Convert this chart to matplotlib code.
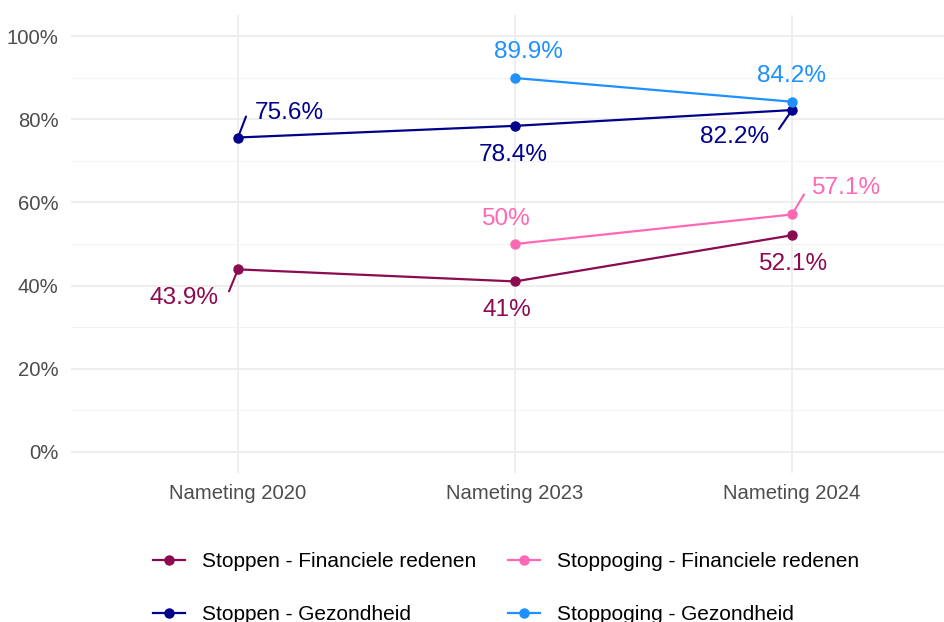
import matplotlib
matplotlib.use('Agg')
import matplotlib.pyplot as plt
import numpy as np

plt.rcParams['font.family'] = ['Liberation Sans', 'DejaVu Sans']

# data
categories = ['Nameting 2020', 'Nameting 2023', 'Nameting 2024']
series_names = ['Stoppen - Financiele redenen', 'Stoppen - Gezondheid',
                'Stoppoging - Financiele redenen', 'Stoppoging - Gezondheid']
stoppen_fin = [43.9, 41.0, 52.1]
stoppen_gez = [75.6, 78.4, 82.2]
stoppoging_fin = [np.nan, 50.0, 57.1]
stoppoging_gez = [np.nan, 89.9, 84.2]
y_ticks = [0, 20, 40, 60, 80, 100]

COLORS = ['#8B0A50', '#00008B', '#FF69B4', '#1E90FF']

# label offsets in pixels (text centre, optional segment start/end)
LABEL_POS = [
    [(-54, -29, (-9, -22), (-2, -4)), (-8, -29, None, None), (1, -29, None, None)],
    [(51, 25, (8, 21), (2, 4)), (-2, -29, None, None), (-57, -27, (-13, -19), (-2, -3))],
    [None, (-10, 25, None, None), (54, 26, (12, 20), (3, 3))],
    [None, (13, 26, None, None), (0, 26, None, None)],
]

W, H = 944, 622
fig = plt.figure(figsize=(W / 100, H / 100), dpi=100)
ax = fig.add_axes([71 / W, 1 - 473 / H, 1 - 71 / W, (473 - 15) / H])

x = np.arange(1, len(categories) + 1)
all_series = [stoppen_fin, stoppen_gez, stoppoging_fin, stoppoging_gez]
for vals, name, col, lpos in zip(all_series, series_names, COLORS, LABEL_POS):
    v = np.array(vals, dtype=float)
    ax.plot(x, v, color=col, lw=1.6, marker='o', markersize=6.5, label=name, zorder=3)
    for xi, yi, lp in zip(x, v, lpos):
        if np.isnan(yi) or lp is None:
            continue
        dx, dy, s0, s1 = lp
        ax.annotate(f'{yi:g}%', (xi, yi), xytext=(dx, dy), textcoords='offset pixels',
                    ha='center', va='center', fontsize=17.6, color=col, zorder=4)
        if s0 is not None:
            ax.annotate('', (xi, yi), xytext=s0, textcoords='offset pixels',
                        arrowprops=dict(arrowstyle='-', color=col, lw=1.5,
                                        shrinkA=0, shrinkB=3))

ax.set_xlim(1 - 167 / 277, 3 + 152 / 277)
ax.set_ylim(-5.05, 105.05)
ax.set_xticks(x)
ax.set_xticklabels(categories)
ax.set_yticks(y_ticks)
ax.set_yticklabels([f'{t}%' for t in y_ticks])
ax.set_yticks([10, 30, 50, 70, 90], minor=True)
ax.tick_params(axis='both', which='both', length=0, labelsize=14.6, colors='#4D4D4D')
ax.tick_params(axis='y', pad=9)
ax.tick_params(axis='x', pad=8)
ax.grid(True, which='major', color='#EBEBEB', lw=1.2)
ax.grid(True, which='minor', axis='y', color='#F3F3F3', lw=0.8)
ax.set_axisbelow(True)
for s in ax.spines.values():
    s.set_visible(False)

fig.legend(loc='upper left', bbox_to_anchor=(153 / W, 1 - 552 / H), ncol=2,
           frameon=False, fontsize=15, handlelength=1.54, handletextpad=0.82,
           columnspacing=1.5, labelspacing=1.63, borderpad=0, borderaxespad=0)

fig.savefig('out.png', dpi=100)
